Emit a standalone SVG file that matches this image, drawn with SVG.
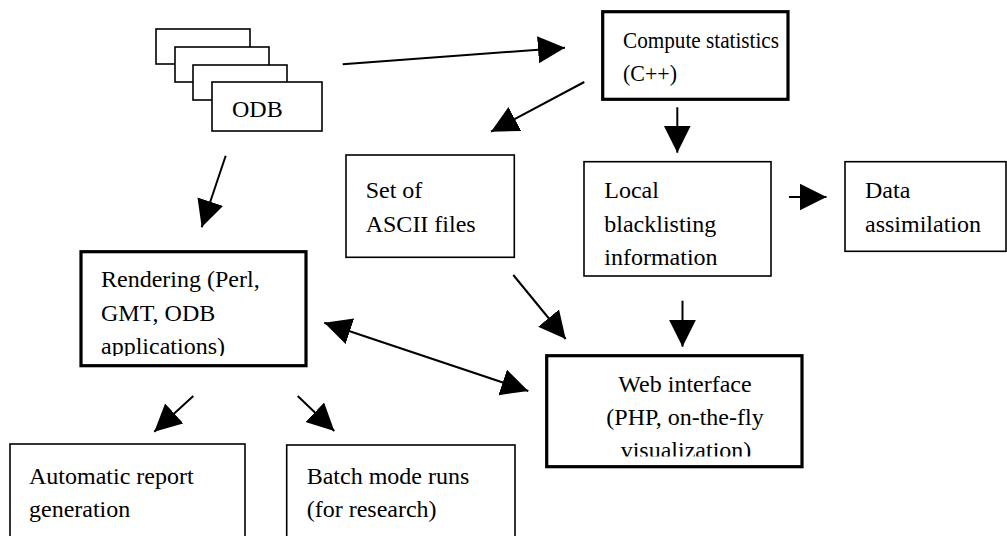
<svg xmlns="http://www.w3.org/2000/svg" width="1007" height="536" viewBox="0 0 1007 536">
  <style>
    .box { fill: #fff; stroke: #000; stroke-width: 1.6; }
    .bold { fill: #fff; stroke: #000; stroke-width: 3.2; }
    .lbl { font-family: "Liberation Serif", "Times New Roman", serif; font-size: 24px; fill: #000; }
    .mid { text-anchor: middle; }
    .conn { stroke: #000; stroke-width: 2; fill: none; }
  </style>
  <defs>
    <marker id="head" markerUnits="userSpaceOnUse" markerWidth="28" markerHeight="28" refX="27" refY="13.5" orient="auto-start-reverse" viewBox="0 0 28 28">
      <path d="M0,0 L27,13.5 L0,27 z" fill="#000"/>
    </marker>
    <clipPath id="clipRender"><rect x="81" y="250" width="225" height="106"/></clipPath>
    <clipPath id="clipWeb"><rect x="546" y="354" width="256" height="102.5"/></clipPath>
  </defs>
  <rect width="1007" height="536" fill="#fff"/>

  <!-- stacked ODB sheets -->
  <g id="odb">
    <rect class="box" x="156" y="29" width="94" height="35"/>
    <rect class="box" x="175" y="47" width="94" height="35"/>
    <rect class="box" x="193" y="65" width="94" height="35"/>
    <rect class="box" x="212" y="82" width="110" height="49"/>
    <text class="lbl" x="232" y="117">ODB</text>
  </g>

  <g id="compute">
    <rect class="bold" x="602.7" y="11.7" width="185.3" height="87.6"/>
    <text class="lbl" x="623" y="47.7" textLength="156" lengthAdjust="spacingAndGlyphs">Compute statistics</text>
    <text class="lbl" x="623" y="80.5" textLength="54" lengthAdjust="spacingAndGlyphs">(C++)</text>
  </g>

  <g id="ascii">
    <rect class="box" x="346" y="155" width="168.3" height="102.3"/>
    <text class="lbl" x="365.7" y="198.3">Set of</text>
    <text class="lbl" x="365.7" y="231.7">ASCII files</text>
  </g>

  <g id="blacklist">
    <rect class="box" x="584" y="161.7" width="187" height="114.3"/>
    <text class="lbl" x="604.3" y="198.3">Local</text>
    <text class="lbl" x="604.3" y="231.7">blacklisting</text>
    <text class="lbl" x="604.3" y="265">information</text>
  </g>

  <g id="assimilation">
    <rect class="box" x="845" y="161.7" width="161" height="89.6"/>
    <text class="lbl" x="865" y="198.3">Data</text>
    <text class="lbl" x="865" y="231.7">assimilation</text>
  </g>

  <g id="rendering">
    <rect class="bold" x="81" y="251.7" width="225" height="114"/>
    <g clip-path="url(#clipRender)">
      <text class="lbl" x="101" y="287.3">Rendering (Perl,</text>
      <text class="lbl" x="101" y="320.7">GMT, ODB</text>
      <text class="lbl" x="101" y="354">applications)</text>
    </g>
  </g>

  <g id="web">
    <rect class="bold" x="546.7" y="355.7" width="255.3" height="111"/>
    <g clip-path="url(#clipWeb)">
      <text class="lbl mid" x="685" y="391.7">Web interface</text>
      <text class="lbl mid" x="685" y="425">(PHP, on-the-fly</text>
      <text class="lbl mid" x="686" y="458.3">visualization)</text>
    </g>
  </g>

  <g id="report">
    <rect class="box" x="10" y="444" width="235" height="100"/>
    <text class="lbl" x="29" y="484.3">Automatic report</text>
    <text class="lbl" x="29" y="516.7">generation</text>
  </g>

  <g id="batch">
    <rect class="box" x="286.7" y="445" width="228.3" height="100"/>
    <text class="lbl" x="306.7" y="484.3">Batch mode runs</text>
    <text class="lbl" x="306.7" y="516.7">(for research)</text>
  </g>

  <g id="connectors">
    <line class="conn" x1="342.7" y1="64.3" x2="565" y2="47.7" marker-end="url(#head)"/>
    <line class="conn" x1="584.3" y1="82" x2="491" y2="131.7" marker-end="url(#head)"/>
    <line class="conn" x1="677.3" y1="107.3" x2="677.3" y2="152.7" marker-end="url(#head)" stroke-width="2.6"/>
    <line class="conn" x1="789" y1="197" x2="826.5" y2="197" marker-end="url(#head)" stroke-width="2.6"/>
    <line class="conn" x1="682.5" y1="300.7" x2="682.5" y2="346.7" marker-end="url(#head)" stroke-width="2.6"/>
    <line class="conn" x1="225.7" y1="155.7" x2="201.7" y2="227.3" marker-end="url(#head)"/>
    <line class="conn" x1="513.3" y1="275" x2="565.7" y2="339" marker-end="url(#head)"/>
    <line class="conn" x1="324.3" y1="322.7" x2="528.3" y2="391" marker-start="url(#head)" marker-end="url(#head)"/>
    <line class="conn" x1="193.3" y1="396" x2="154.3" y2="431.7" marker-end="url(#head)"/>
    <line class="conn" x1="297.7" y1="396" x2="334.3" y2="431" marker-end="url(#head)"/>
  </g>
</svg>
